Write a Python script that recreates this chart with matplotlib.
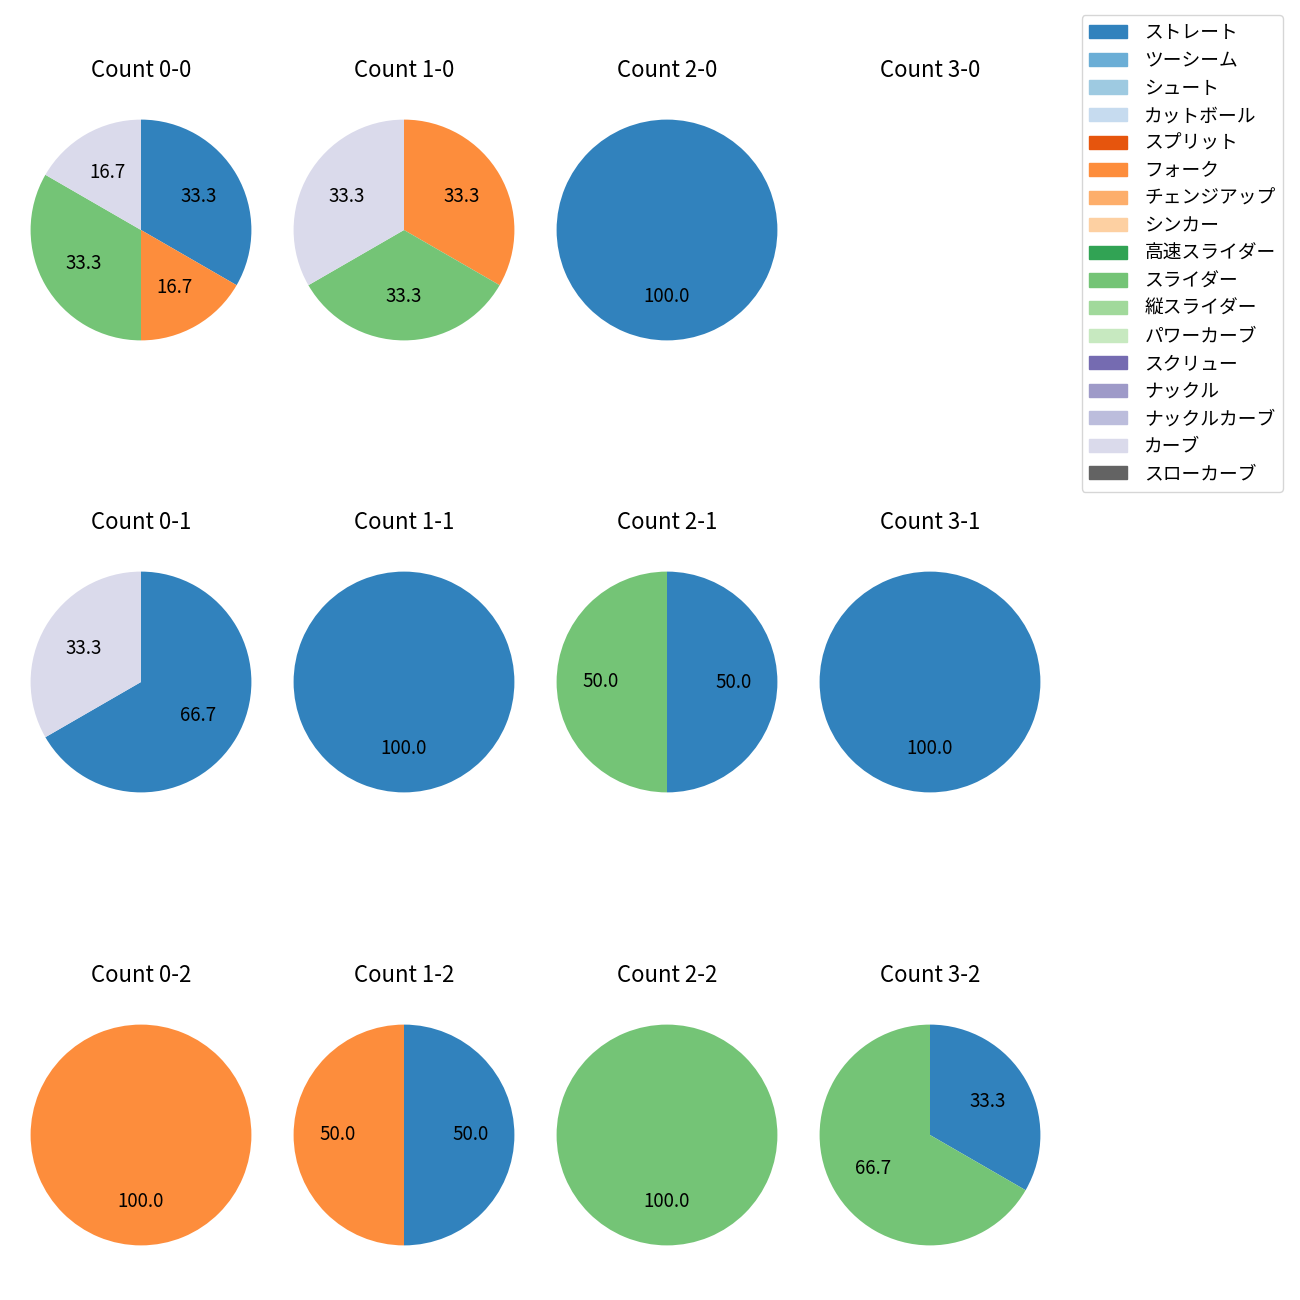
import matplotlib
matplotlib.use('Agg')
import matplotlib.pyplot as plt
from matplotlib.patches import Patch
import numpy as np

plt.rcParams['font.family'] = ['Noto Sans CJK JP', 'DejaVu Sans']

# 球種 (tab20c の順)
pitch_types = ['ストレート', 'ツーシーム', 'シュート', 'カットボール', 'スプリット',
               'フォーク', 'チェンジアップ', 'シンカー', '高速スライダー', 'スライダー',
               '縦スライダー', 'パワーカーブ', 'スクリュー', 'ナックル', 'ナックルカーブ',
               'カーブ', 'スローカーブ']

# カウント別の投球数 (ball-strike)
counts = {
    '0-0': {'ストレート': 2, 'フォーク': 1, 'スライダー': 2, 'カーブ': 1},
    '1-0': {'フォーク': 1, 'スライダー': 1, 'カーブ': 1},
    '2-0': {'ストレート': 1},
    '3-0': {},
    '0-1': {'ストレート': 2, 'カーブ': 1},
    '1-1': {'ストレート': 1},
    '2-1': {'ストレート': 1, 'スライダー': 1},
    '3-1': {'ストレート': 1},
    '0-2': {'フォーク': 1},
    '1-2': {'ストレート': 1, 'フォーク': 1},
    '2-2': {'スライダー': 1},
    '3-2': {'ストレート': 1, 'スライダー': 2},
}

colors = plt.get_cmap('tab20c').colors
color_map = {p: colors[i] for i, p in enumerate(pitch_types)}

fig = plt.figure(figsize=(13, 13))

# 各パイの中心 (ピクセル) と軸の大きさ
W = H = 1300.0
box = 276.0
col_cx = [141, 404, 667, 930]
row_cy = [230, 682, 1135]

for strikes in range(3):
    for balls in range(4):
        cx, cy = col_cx[balls], row_cy[strikes]
        ax = fig.add_axes([(cx - box / 2) / W, 1 - (cy + box / 2) / H, box / W, box / H])
        key = f'{balls}-{strikes}'
        data = counts[key]
        labels = [p for p in pitch_types if data.get(p, 0) > 0]
        vals = [data[p] for p in labels]
        if vals:
            ax.pie(vals, colors=[color_map[p] for p in labels], autopct='%.1f',
                   startangle=90, counterclock=False,
                   pctdistance=0.6, textprops={'fontsize': 13.5})
        else:
            ax.set_xlim(-1.25, 1.25)
            ax.set_ylim(-1.25, 1.25)
            ax.axis('off')
        ax.set_title(f'Count {key}', fontsize=16, pad=11)

handles = [Patch(color=color_map[p], label=p) for p in pitch_types]
fig.legend(handles=handles, loc='upper right', bbox_to_anchor=(0.987, 0.9885),
           borderaxespad=0, fontsize=13.5, labelspacing=0.35, handletextpad=0.95)

plt.savefig('out.png', dpi=100)
